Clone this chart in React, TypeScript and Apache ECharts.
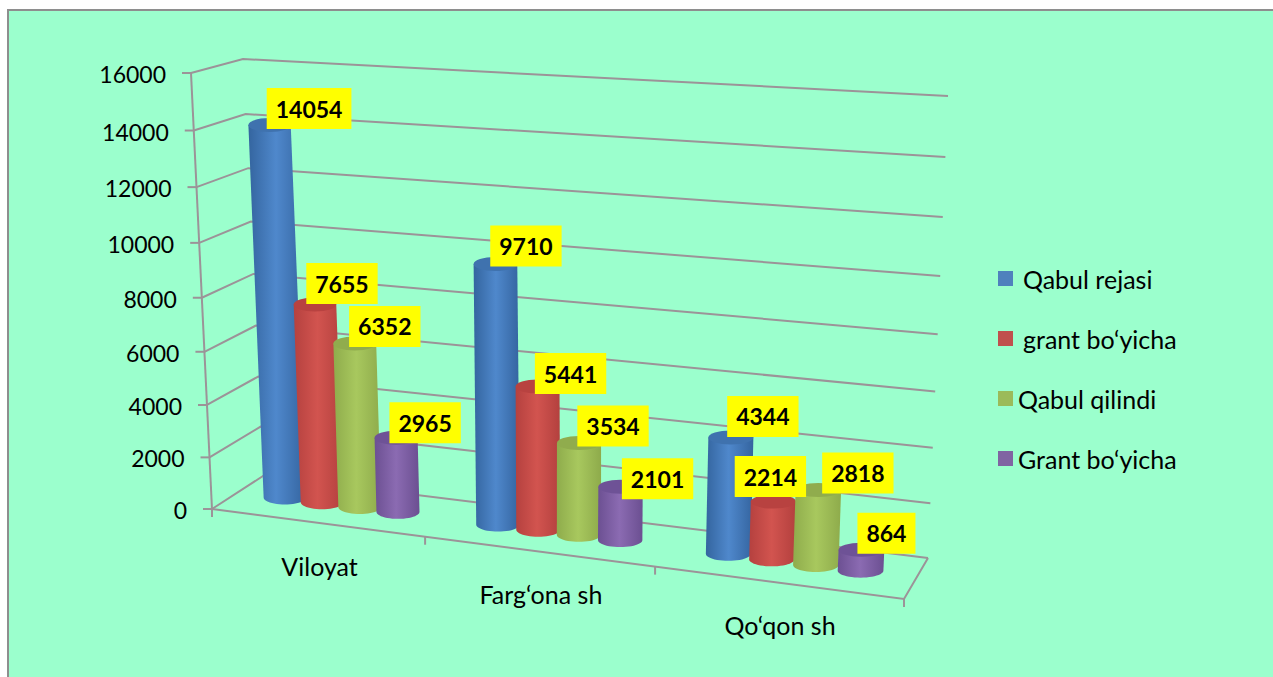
import React, { useEffect, useRef } from "react";
import * as echarts from "echarts";

const categories = ["Viloyat", "Farg‘ona sh", "Qo‘qon sh"];
const seriesNames = ["Qabul rejasi", "grant bo‘yicha", "Qabul qilindi", "Grant bo‘yicha"];
const qabulRejasi = [14054, 9710, 4344];
const grantBoyicha = [7655, 5441, 2214];
const qabulQilindi = [6352, 3534, 2818];
const grantBoyicha2 = [2965, 2101, 864];
const valueTicks = [0, 2000, 4000, 6000, 8000, 10000, 12000, 14000, 16000];

const seriesValues = [qabulRejasi, grantBoyicha, qabulQilindi, grantBoyicha2];
const baseColors = ["#4F81BD", "#C0504D", "#9BBB59", "#8064A2"];
const sideStops = [
  ["#34659F", "#4F88CC", "#34649F"],
  ["#B5413F", "#D2544F", "#B3403E"],
  ["#8FAC4C", "#A8C85E", "#8EAB4B"],
  ["#6C5092", "#8B6BB2", "#6B4F91"],
];
const topColors = ["#3F72AE", "#B84240", "#90AC4D", "#6E5296"];

// Chart-box corners of the tilted 3D frame (layout, not data)
const FLB = [212, 509], FRB = [904, 599], BLB = [263, 476], BRB = [928, 558];
const FLT = [191, 73], FRT = [926, 117], BLT = [243, 59], BRT = [948, 96];
const K_U = 0.89, K_V = 0.94, BAR_W = 0.45, BAR_STEP = 0.06, BAR_SHIFT = 0.005;
const GRID = "#9C9398";
const FONT = "Lato";

const lerp = (a: number[], b: number[], f: number) => [a[0] + (b[0] - a[0]) * f, a[1] + (b[1] - a[1]) * f];
const persp = (f: number, k: number) => (f * k) / (1 + f * (k - 1));
function project(s: number, v: number, w: number) {
  const t = persp(s, K_U);
  const vv = persp(v, K_V);
  const bottom = lerp(lerp(FLB, FRB, t), lerp(BLB, BRB, t), w);
  const top = lerp(lerp(FLT, FRT, t), lerp(BLT, BRT, t), w);
  return lerp(bottom, top, vv);
}
const fractions = (params: any, api: any, x: number, y: number) => {
  const c = api.coord([x, y]);
  const sys = params.coordSys;
  return [(c[0] - sys.x) / sys.width, (sys.y + sys.height - c[1]) / sys.height];
};
const barS = (sCenter: number, j: number) => sCenter + BAR_SHIFT + (j - 1.5) * BAR_STEP;

const labelShift = [
  [[39.5, -16.5], [30.5, -18], [32, -21]],
  [[27, -21], [33, -13], [-3, -25]],
  [[30, -17], [34, -17], [39.5, -17]],
  [[29, -15], [37, -8], [25, -16.5]],
];

const gridRenderer = (params: any, api: any) => {
  const val = api.value(1);
  const [, v] = fractions(params, api, 0, val);
  const a = project(0, v, 0), b = project(0, v, 1), c = project(1, v, 1);
  const line = { stroke: GRID, lineWidth: 2, fill: "none" };
  const children: any[] = [
    { type: "polyline", shape: { points: [a, b, c] }, style: line },
    { type: "line", shape: { x1: a[0] - 9, y1: a[1], x2: a[0], y2: a[1] }, style: line },
    {
      type: "text",
      style: {
        text: String(val), x: a[0] - 25, y: a[1] + 1, align: "right", verticalAlign: "middle",
        font: `23px ${FONT}`, fill: "#000",
      },
    },
  ];
  if (val === 0) {
    const f = project(1, 0, 0);
    children.push({ type: "polyline", shape: { points: [a, f, c] }, style: line });
    children.push({
      type: "line",
      shape: { x1: FLB[0], y1: FLB[1], x2: FLT[0], y2: FLT[1] },
      style: line,
    });
    [0, 1 / 3, 2 / 3, 1].forEach((s) => {
      const p = project(s, 0, 0);
      children.push({ type: "line", shape: { x1: p[0], y1: p[1], x2: p[0], y2: p[1] + 8 }, style: line });
    });
  }
  return { type: "group", children };
};

const catRenderer = (params: any, api: any) => {
  const i = api.value(0);
  const [s] = fractions(params, api, i, 0);
  const p = project(s, 0, 0);
  return {
    type: "text",
    style: {
      text: categories[i], x: p[0] + 3, y: p[1] + 43, align: "center", verticalAlign: "middle",
      font: `25px ${FONT}`, fill: "#000",
    },
  };
};

const barRenderer = (j: number) => (params: any, api: any) => {
  const i = api.value(0);
  const val = api.value(1);
  const [sC, v] = fractions(params, api, i, val);
  const s = barS(sC, j);
  const b = project(s, 0, BAR_W);
  const t = project(s, v, BAR_W);
  const rx = 21 + 2 * s, ry = 7;
  const pts: number[][] = [[t[0] - rx, t[1]], [t[0] + rx, t[1]]];
  const n = 24;
  const baseY = b[1] - 3;
  for (let a = 0; a <= n; a++) {
    const ang = (Math.PI * a) / n;
    pts.push([b[0] + rx * Math.cos(ang), baseY + ry * Math.sin(ang)]);
  }
  const stops = sideStops[j];
  return {
    type: "group",
    children: [
      {
        type: "polygon",
        shape: { points: pts },
        style: {
          fill: new echarts.graphic.LinearGradient(0, 0, 1, 0, [
            { offset: 0, color: stops[0] },
            { offset: 0.48, color: stops[1] },
            { offset: 1, color: stops[2] },
          ]),
        },
      },
      { type: "ellipse", shape: { cx: t[0], cy: t[1], rx, ry }, style: { fill: topColors[j] } },
    ],
  };
};

const labelRenderer = (j: number) => (params: any, api: any) => {
  const i = api.value(0);
  const val = api.value(1);
  const [sC, v] = fractions(params, api, i, val);
  const t = project(barS(sC, j), v, BAR_W);
  const d = labelShift[j][i];
  return {
    type: "text",
    style: {
      text: String(val), x: t[0] + d[0], y: t[1] + d[1], align: "center", verticalAlign: "middle",
      font: `bold 23px ${FONT}`, fill: "#000", backgroundColor: "#FFFF00",
      padding: [9, 9, 9, 9],
    },
  };
};

export default function App() {
  const ref = useRef<HTMLDivElement>(null);
  useEffect(() => {
    const chart = echarts.init(ref.current!, null, { renderer: "svg" });
    const common = { type: "custom", coordinateSystem: "cartesian2d", clip: false, encode: { x: 0, y: 1 } };
    chart.setOption({
      animation: false,
      backgroundColor: "#FFFFFF",
      graphic: [
        {
          type: "rect", z: -10, silent: true,
          shape: { x: 8, y: 10, width: 1320, height: 720 },
          style: { fill: "#9BFFCD", stroke: "#8E8E8E", lineWidth: 2 },
        },
      ],
      grid: { left: 100, top: 100, width: 300, height: 300, show: false },
      xAxis: { type: "category", data: categories, show: false },
      yAxis: { type: "value", min: 0, max: 16000, interval: 2000, show: false },
      legend: {
        orient: "vertical", left: 993, top: 261, icon: "rect", itemWidth: 15, itemHeight: 15, itemGap: 35,
        data: seriesNames,
        formatter: (name: string) => (seriesNames.indexOf(name) < 2 ? `{pad|${name}}` : `{std|${name}}`),
        textStyle: {
          fontFamily: FONT, fontSize: 25, color: "#000",
          rich: {
            pad: { fontFamily: FONT, fontSize: 25, color: "#000", padding: [0, 0, 0, 5] },
            std: { fontFamily: FONT, fontSize: 25, color: "#000" },
          },
        },
      },
      series: [
        { ...common, name: "walls", z: 1, renderItem: gridRenderer, data: valueTicks.map((v) => [0, v]) },
        { ...common, name: "cats", z: 1, renderItem: catRenderer, data: categories.map((_, i) => [i, 0]) },
        ...seriesNames.map((name, j) => ({
          ...common, name, z: 2, itemStyle: { color: baseColors[j] }, renderItem: barRenderer(j),
          data: seriesValues[j].map((v, i) => [i, v]),
        })),
        ...seriesNames.map((name, j) => ({
          ...common, name: `labels ${j}`, z: 3, renderItem: labelRenderer(j),
          data: seriesValues[j].map((v, i) => [i, v]),
        })),
      ],
    });
    return () => chart.dispose();
  }, []);
  return <div ref={ref} style={{ position: "absolute", left: 0, top: 0, width: 1273, height: 677 }} />;
}
